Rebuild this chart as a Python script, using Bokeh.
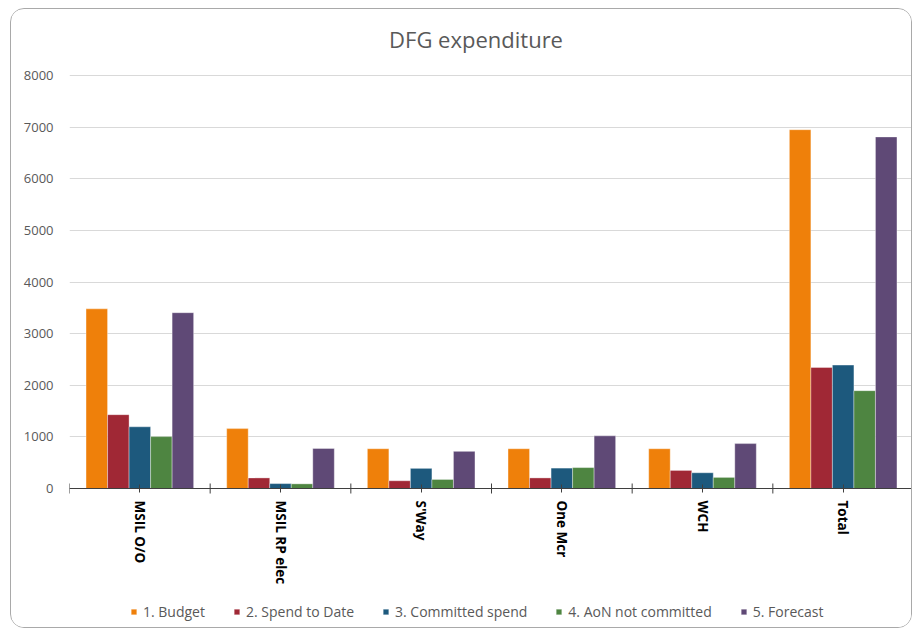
from bokeh.plotting import figure
from bokeh.models import (ColumnDataSource, Legend, LegendItem, FactorRange,
                          FixedTicker, Label)
from bokeh.transform import dodge
from bokeh.embed import file_html
from bokeh.resources import INLINE
import math

categories = ["MSIL O/O", "MSIL RP elec", "S'Way", "One Mcr", "WCH", "Total"]
budget = [3480, 1160, 770, 770, 770, 6950]
spend_to_date = [1430, 205, 150, 205, 350, 2345]
committed = [1195, 95, 390, 395, 305, 2390]
aon_not_committed = [1005, 90, 175, 405, 215, 1895]
forecast = [3405, 775, 720, 1020, 870, 6810]

series_names = ["1. Budget", "2. Spend to Date", "3. Committed spend",
                "4. AoN not committed", "5. Forecast"]
series_keys = ["budget", "spend", "committed", "aon", "forecast"]
colors = ["#EF800A", "#A02835", "#1D597D", "#4E8541", "#5F4976"]
y_ticks = [0, 1000, 2000, 3000, 4000, 5000, 6000, 7000, 8000]
title_text = "DFG expenditure"

src = ColumnDataSource(dict(cat=categories, budget=budget, spend=spend_to_date,
                            committed=committed, aon=aon_not_committed,
                            forecast=forecast))

FONT = "Open Sans"
W, H = 902, 620
TOP, LEFT = 66, 58                # canvas row of 8000, left edge of the plot area
AXIS_Y = 479                      # canvas row of the value 0
px_per_unit = (AXIS_Y - TOP) / y_ticks[-1]
y_end = y_ticks[-1] + TOP / px_per_unit
y_start = y_end - H / px_per_unit

p = figure(x_range=FactorRange(*categories), y_range=(y_start, y_end),
           width=W, height=H, output_backend="svg", toolbar_location=None,
           min_border_left=LEFT, min_border_right=0, min_border_top=0,
           min_border_bottom=0)
p.x_range.range_padding = 0
p.outline_line_color = None
p.background_fill_color = "white"
p.border_fill_color = "white"
p.styles = {"border": "1px solid #a9a9a9", "border-radius": "14px",
            "margin-left": "10px", "margin-top": "8px", "overflow": "hidden"}

# chart title, centred over the chart area
p.add_layout(Label(x=2.89, y=y_ticks[-1] + 37 / px_per_unit, text=title_text,
                   text_align="center", text_baseline="middle",
                   text_font=FONT, text_font_size="22px", text_color="#595959"))

bar_w = 0.153
offsets = [-2 * bar_w, -bar_w, 0, bar_w, 2 * bar_w]
items = []
for name, key, col, off in zip(series_names, series_keys, colors, offsets):
    r = p.vbar(x=dodge("cat", off, range=p.x_range), top=key, width=bar_w,
               source=src, fill_color=col, line_color="white", line_width=0.6,
               line_alpha=0.6)
    items.append(LegendItem(label=name, renderers=[r]))

# category boundary tick marks on the x axis
tick_half = 5 / px_per_unit
p.segment(x0=dodge("cat", -0.5, range=p.x_range), x1=dodge("cat", -0.5, range=p.x_range),
          y0=-tick_half, y1=tick_half, source=src, line_color="#3f3f3f", line_width=1)

p.xgrid.grid_line_color = None
p.ygrid.grid_line_color = "#d9d9d9"
p.ygrid.grid_line_width = 1
p.yaxis.ticker = FixedTicker(ticks=y_ticks)
p.yaxis.axis_line_color = None
p.yaxis.major_tick_line_color = None
p.yaxis.minor_tick_line_color = None
p.yaxis.major_tick_in = 0
p.yaxis.major_tick_out = 0
p.yaxis.major_label_standoff = 16
p.yaxis.major_label_text_font = FONT
p.yaxis.major_label_text_font_size = "13px"
p.yaxis.major_label_text_color = "#595959"

p.xaxis.fixed_location = 0
p.xaxis.axis_line_color = "#3f3f3f"
p.xaxis.major_tick_line_color = "#3f3f3f"
p.xaxis.major_tick_in = 4
p.xaxis.major_tick_out = 4
p.xaxis.major_label_orientation = -math.pi / 2
p.xaxis.major_label_text_font = FONT
p.xaxis.major_label_text_font_size = "13.5px"
p.xaxis.major_label_text_font_style = "bold"
p.xaxis.major_label_text_color = "#000000"
p.xaxis.major_label_standoff = 8

legend = Legend(items=items, orientation="horizontal", location=(61, 8),
                border_line_color=None, background_fill_alpha=0,
                label_text_font=FONT, label_text_font_size="14px",
                label_text_color="#595959", glyph_width=7, glyph_height=7,
                label_standoff=6, spacing=28, padding=0, margin=0)
p.add_layout(legend, "center")

open("out.html", "w").write(file_html(p, INLINE))
